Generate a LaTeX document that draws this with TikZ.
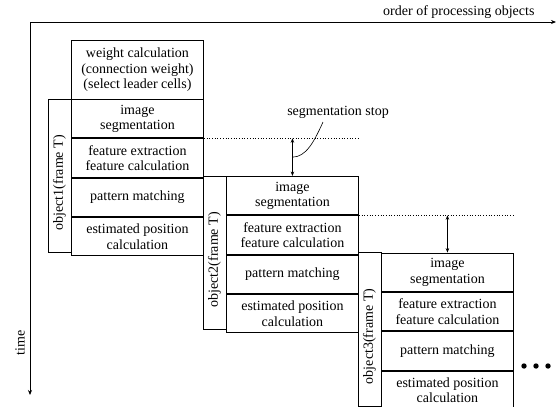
\documentclass[tikz,border=0pt]{standalone}
\usepackage{fontspec}
\setmainfont{Liberation Serif}
\usetikzlibrary{arrows.meta}
\begin{document}
\begin{tikzpicture}[x=1pt,y=-1pt,
  every node/.style={font=\fontsize{14}{15.5}\selectfont},
  box/.style={draw,line width=0.9pt,inner sep=0pt,align=center},
  cell/.style={box,minimum width=132pt,minimum height=38.4pt,anchor=north west},
  objlabel/.style={box,minimum width=153.6pt,minimum height=23pt,rotate=90},
  axis/.style={line width=0.8pt,-{Stealth[length=5pt,width=4pt]}},
  gap/.style={line width=0.7pt,{Stealth[length=4.5pt,width=3.5pt]}-{Stealth[length=4.5pt,width=3.5pt]}},
  guide/.style={line width=0.7pt,dotted},
  lead/.style={line width=0.6pt}
]
\useasboundingbox (0,0) rectangle (557,407);
% axes
\coordinate (origin) at (30,22);
\coordinate (xend) at (556,22);
\coordinate (yend) at (30,395);
\draw[axis] (origin) -- (xend);
\draw[axis] (origin) -- (yend);
\node[anchor=east] (xlabel) at (538,12) {order of processing objects};
\node[rotate=90] (ylabel) at (20,343) {time};
% weight box
\node[box,minimum width=132pt,minimum height=59pt,anchor=north west] (w) at (71,40)
  {weight calculation\\(connection weight)\\(select leader cells)};
% objects
\foreach \i/\L/\T in {1/71/99, 2/226/176, 3/381/252.6}{
  \node[cell] (c\i-1) at (\L,\T) {image\\segmentation};
  \node[cell] (c\i-2) at (c\i-1.south west) {feature extraction\\feature calculation};
  \node[cell] (c\i-3) at (c\i-2.south west) {pattern matching};
  \node[cell] (c\i-4) at (c\i-3.south west) {estimated position\\calculation};
  \node[objlabel] (o\i) at (\L-11.5,\T+76.8) {object\i(frame T)\hspace{14pt}};
}
% segmentation stop guides
\draw[guide] (c1-1.south east) -- (c2-1.north east |- c1-1.south);
\draw[gap] (c2-1.north |- c1-1.south) -- coordinate (m1) (c2-1.north);
\draw[guide] (c2-1.south east) -- (c3-1.north east |- c2-1.south);
\draw[gap] (c3-1.north |- c2-1.south) -- (c3-1.north);
\node (stop) at (338,112) {segmentation stop};
\draw[lead] (323,122) .. controls (314,142) and (306,157) .. (m1);
% continuation dots
\fill (524,366) circle (2.7);
\fill (536,366) circle (2.7);
\fill (548,366) circle (2.7);
\end{tikzpicture}
\end{document}
